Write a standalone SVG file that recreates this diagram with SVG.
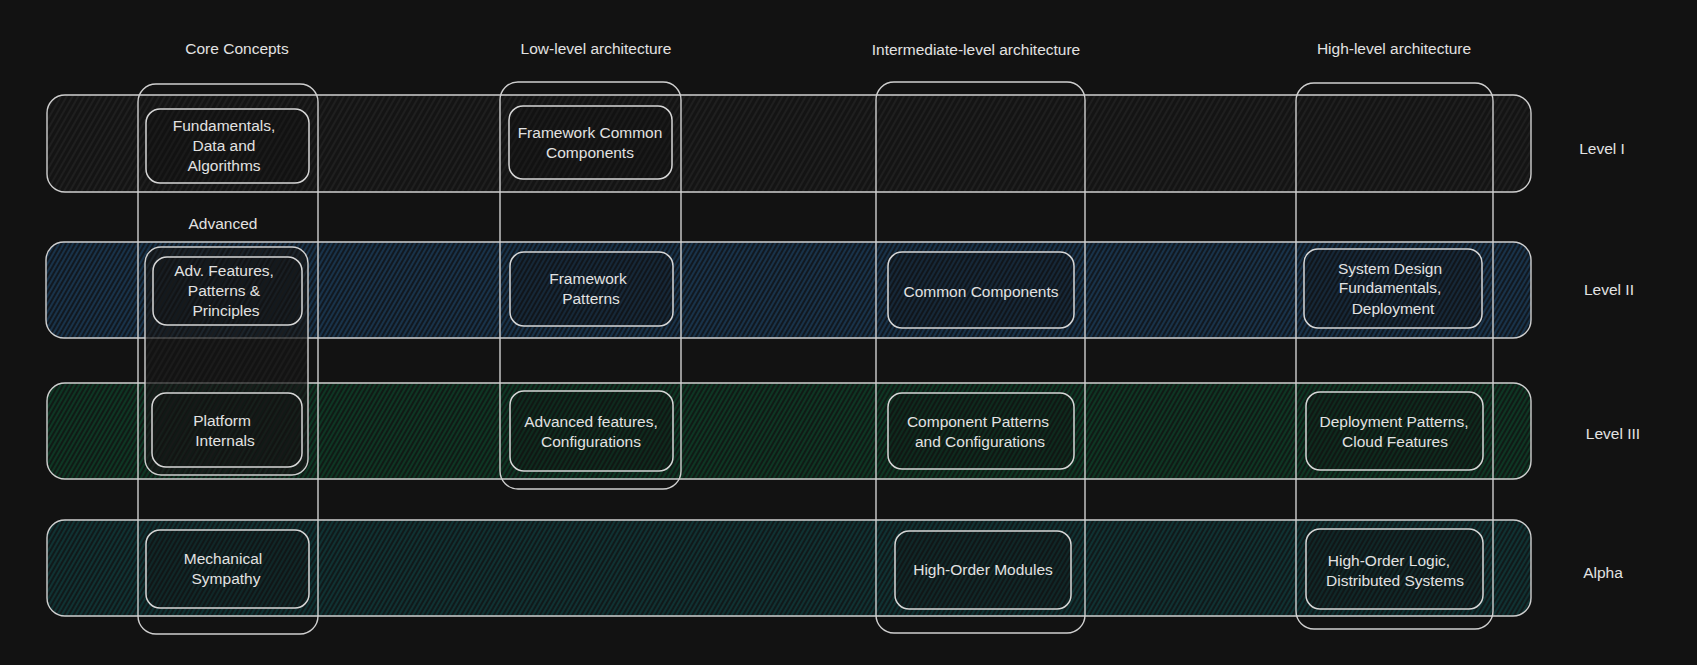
<svg xmlns="http://www.w3.org/2000/svg" width="1697" height="665" viewBox="0 0 1697 665">
<defs>
<pattern id="hGray" patternUnits="userSpaceOnUse" width="5" height="5" patternTransform="rotate(30)">
<rect width="5" height="5" fill="#141414"/>
<line x1="1" y1="0" x2="1" y2="5" stroke="#262626" stroke-width="1.2"/>
</pattern>
<pattern id="hBlue" patternUnits="userSpaceOnUse" width="4" height="4" patternTransform="rotate(30)">
<rect width="4" height="4" fill="#111820"/>
<line x1="1" y1="0" x2="1" y2="4" stroke="#1d4566" stroke-width="1.2"/>
</pattern>
<pattern id="hGreen" patternUnits="userSpaceOnUse" width="4" height="4" patternTransform="rotate(30)">
<rect width="4" height="4" fill="#101a15"/>
<line x1="1" y1="0" x2="1" y2="4" stroke="#0c4a2e" stroke-width="1.2"/>
</pattern>
<pattern id="hTeal" patternUnits="userSpaceOnUse" width="4" height="4" patternTransform="rotate(30)">
<rect width="4" height="4" fill="#10191a"/>
<line x1="1" y1="0" x2="1" y2="4" stroke="#0f4343" stroke-width="1.2"/>
</pattern>
</defs>
<style>
.bg{fill:#121212}
.box{stroke:#cfcfcf;stroke-width:1.4}
.col{fill:none;stroke:#cfcfcf;stroke-width:1.4}
.fGray{fill:url(#hGray)}
.fBlue{fill:url(#hBlue)}
.fGreen{fill:url(#hGreen)}
.fTeal{fill:url(#hTeal)}
.node{fill:#121212;fill-opacity:0.3;stroke:#d6d6d6;stroke-width:1.5}
text{font-family:"Liberation Sans",Arial,sans-serif;font-size:15.5px;fill:#e2e2e2;text-anchor:middle}
</style>
<rect class="bg" x="0" y="0" width="1697" height="665"/>

<g id="bands">
<g id="band-level1">
<rect x="47" y="95" width="1484" height="97" rx="18" class="box fGray"/>
<text x="1602" y="154">Level I</text>
</g>
<g id="band-level2">
<rect x="46" y="242" width="1485" height="96" rx="18" class="box fBlue"/>
<text x="1609" y="295">Level II</text>
</g>
<g id="band-level3">
<rect x="47" y="383" width="1484" height="96" rx="18" class="box fGreen"/>
<text x="1613" y="439">Level III</text>
</g>
<g id="band-alpha">
<rect x="47" y="520" width="1484" height="96" rx="18" class="box fTeal"/>
<text x="1603" y="578">Alpha</text>
</g>
</g>

<g id="advanced-group">
<rect x="145" y="247" width="163" height="228" rx="16" class="box fGray" fill-opacity="0.7"/>
<text x="223" y="229">Advanced</text>
</g>

<g id="columns">
<g id="col-core">
<rect x="138" y="84" width="180" height="550" rx="18" class="col"/>
<text x="237" y="54">Core Concepts</text>
</g>
<g id="col-low">
<rect x="500" y="82" width="181" height="407" rx="18" class="col"/>
<text x="596" y="54">Low-level architecture</text>
</g>
<g id="col-inter">
<rect x="876" y="82" width="209" height="551" rx="18" class="col"/>
<text x="976" y="55">Intermediate-level architecture</text>
</g>
<g id="col-high">
<rect x="1296" y="83" width="197" height="546" rx="18" class="col"/>
<text x="1394" y="54">High-level architecture</text>
</g>
</g>

<g id="node-fundamentals">
<rect x="146" y="109" width="163" height="74" rx="14" class="node"/>
<text x="224" y="131">Fundamentals,</text>
<text x="224" y="151">Data and</text>
<text x="224" y="171">Algorithms</text>
</g>
<g id="node-framework-common">
<rect x="509" y="106" width="163" height="73" rx="14" class="node"/>
<text x="590" y="138">Framework Common</text>
<text x="590" y="158">Components</text>
</g>
<g id="node-adv-features">
<rect x="153" y="257" width="149" height="68" rx="14" class="node"/>
<text x="224" y="276">Adv. Features,</text>
<text x="224" y="296">Patterns &amp;</text>
<text x="226" y="316">Principles</text>
</g>
<g id="node-framework-patterns">
<rect x="510" y="252" width="163" height="74" rx="14" class="node"/>
<text x="588" y="284">Framework</text>
<text x="591" y="304">Patterns</text>
</g>
<g id="node-common-components">
<rect x="888" y="252" width="186" height="76" rx="14" class="node"/>
<text x="981" y="297">Common Components</text>
</g>
<g id="node-system-design">
<rect x="1304" y="249" width="178" height="79" rx="14" class="node"/>
<text x="1390" y="274">System Design</text>
<text x="1390" y="293">Fundamentals,</text>
<text x="1393" y="314">Deployment</text>
</g>
<g id="node-platform-internals">
<rect x="152" y="393" width="150" height="74" rx="14" class="node"/>
<text x="222" y="426">Platform</text>
<text x="225" y="446">Internals</text>
</g>
<g id="node-advanced-features">
<rect x="510" y="391" width="163" height="80" rx="14" class="node"/>
<text x="591" y="427">Advanced features,</text>
<text x="591" y="447">Configurations</text>
</g>
<g id="node-component-patterns">
<rect x="888" y="393" width="186" height="76" rx="14" class="node"/>
<text x="978" y="427">Component Patterns</text>
<text x="980" y="447">and Configurations</text>
</g>
<g id="node-deployment-patterns">
<rect x="1306" y="392" width="177" height="78" rx="14" class="node"/>
<text x="1394" y="427">Deployment Patterns,</text>
<text x="1395" y="447">Cloud Features</text>
</g>
<g id="node-mechanical-sympathy">
<rect x="146" y="530" width="163" height="78" rx="14" class="node"/>
<text x="223" y="564">Mechanical</text>
<text x="226" y="584">Sympathy</text>
</g>
<g id="node-high-order-modules">
<rect x="895" y="531" width="176" height="78" rx="14" class="node"/>
<text x="983" y="575">High-Order Modules</text>
</g>
<g id="node-high-order-logic">
<rect x="1306" y="529" width="177" height="80" rx="14" class="node"/>
<text x="1389" y="566">High-Order Logic,</text>
<text x="1395" y="586">Distributed Systems</text>
</g>
<g id="connectors"></g>
</svg>
